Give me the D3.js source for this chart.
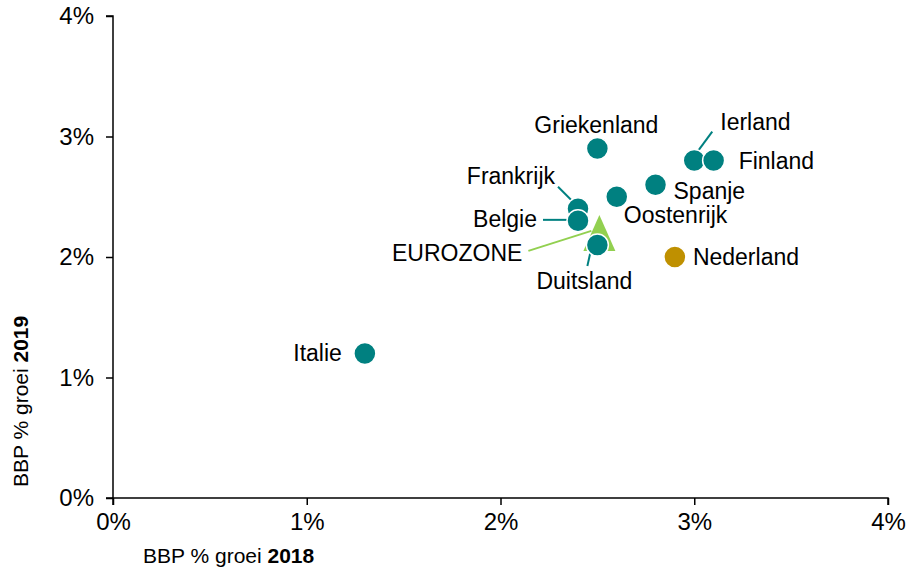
<!DOCTYPE html>
<html>
<head>
<meta charset="utf-8">
<script src="https://cdn.jsdelivr.net/npm/d3@7"></script>
<style>
  body { margin: 0; background: #fff; }
  svg { display: block; font-family: "Liberation Sans", Arial, sans-serif; }
  .axis path, .axis line { stroke: #000; stroke-width: 1.5; }
  .axis text { font-size: 24px; fill: #000; }
</style>
</head>
<body>
<svg id="chart" width="907" height="571"></svg>
<script>
// data (growth in %)
var countries = ["Frankrijk", "Belgie", "Griekenland", "Oostenrijk", "Spanje", "Ierland", "Finland", "Italie"];
var growth2018 = [2.4, 2.4, 2.5, 2.6, 2.8, 3.0, 3.1, 1.3];
var growth2019 = [2.4, 2.3, 2.9, 2.5, 2.6, 2.8, 2.8, 1.2];
var euroName = "EUROZONE", euro2018 = 2.5, euro2019 = 2.2;
var germanyName = "Duitsland", germany2018 = 2.5, germany2019 = 2.1;
var nlName = "Nederland", nl2018 = 2.9, nl2019 = 2.0;
var tickValues = [0, 1, 2, 3, 4];

// label layout: offset from the marker centre, anchor, optional leader line
var labelLayout = {
    "Griekenland": { dx: -1, dy: -24, anchor: "middle" },
    "Ierland": { dx: 26, dy: -39, anchor: "start", leader: [[18, -29], [4, -10]] },
    "Finland": { dx: 25, dy: 0, anchor: "start" },
    "Spanje": { dx: 18, dy: 6, anchor: "start" },
    "Oostenrijk": { dx: 7, dy: 18, anchor: "start" },
    "Frankrijk": { dx: -23, dy: -33, anchor: "end", leader: [[-20, -22], [-7, -9]] },
    "Belgie": { dx: -41, dy: -2, anchor: "end", leader: [[-35, -1], [-10, -1]] },
    "Italie": { dx: -23, dy: 0, anchor: "end" },
    "EUROZONE": { dx: -75, dy: 20, anchor: "end", leader: [[-69, 18], [-6, -2]] },
    "Duitsland": { dx: -13, dy: 36, anchor: "middle", leader: [[-10, 21], [-6, 3]] },
    "Nederland": { dx: 18, dy: 0, anchor: "start" }
};

var teal = "#008080", gold = "#BF9000", lime = "#92D050";

var svg = d3.select("#chart");
var x = d3.scaleLinear().domain([0, 4]).range([113, 888]);
var y = d3.scaleLinear().domain([0, 4]).range([498, 16]);

var fmt = function (d) { return d + "%"; };

svg.append("g").attr("class", "axis")
    .attr("transform", "translate(" + x(0) + ",0)")
    .call(d3.axisLeft(y).tickValues(tickValues).tickFormat(fmt).tickSize(7).tickPadding(12))
    .call(function (g) { g.select(".domain").attr("d", "M-7," + y(4) + "H0V" + y(0) + "H-7"); });

svg.append("g").attr("class", "axis")
    .attr("transform", "translate(0," + y(0) + ")")
    .call(d3.axisBottom(x).tickValues(tickValues).tickFormat(fmt).tickSize(7).tickPadding(8))
    .call(function (g) { g.select(".domain").attr("d", "M" + x(0) + ",7V0H" + x(4) + "V7"); });

// axis titles
var xt = svg.append("text").attr("x", 143).attr("y", 563).attr("font-size", 21);
xt.append("tspan").text("BBP % groei ");
xt.append("tspan").attr("font-weight", "bold").text("2018");

var yt = svg.append("text").attr("transform", "translate(28,487) rotate(-90)").attr("font-size", 21);
yt.append("tspan").text("BBP % groei ");
yt.append("tspan").attr("font-weight", "bold").text("2019");

// build point list
var points = countries.map(function (c, i) {
    return { name: c, gx: growth2018[i], gy: growth2019[i], color: teal };
});
var euro = { name: euroName, gx: euro2018, gy: euro2019, color: lime };
var germany = { name: germanyName, gx: germany2018, gy: germany2019, color: teal };
var nl = { name: nlName, gx: nl2018, gy: nl2019, color: gold };

var leaders = svg.append("g");
var marks = svg.append("g");
var labels = svg.append("g");

// euro triangle
marks.append("path")
    .attr("transform", "translate(" + (x(euro.gx) + 2) + "," + y(euro.gy) + ")")
    .attr("d", "M0,-18L16,18L-16,18Z")
    .attr("fill", lime);

marks.selectAll("circle.pt")
    .data(points.concat([germany, nl]))
    .enter().append("circle")
    .attr("class", "pt")
    .attr("cx", function (d) { return x(d.gx); })
    .attr("cy", function (d) { return y(d.gy); })
    .attr("r", 11)
    .attr("fill", function (d) { return d.color; })
    .attr("stroke", "#fff")
    .attr("stroke-width", 1.5);

var all = points.concat([euro, germany, nl]);

leaders.selectAll("line")
    .data(all.filter(function (d) { return labelLayout[d.name].leader; }))
    .enter().append("line")
    .attr("x1", function (d) { return x(d.gx) + labelLayout[d.name].leader[0][0]; })
    .attr("y1", function (d) { return y(d.gy) + labelLayout[d.name].leader[0][1]; })
    .attr("x2", function (d) { return x(d.gx) + labelLayout[d.name].leader[1][0]; })
    .attr("y2", function (d) { return y(d.gy) + labelLayout[d.name].leader[1][1]; })
    .attr("stroke", function (d) { return d.name === euroName ? lime : teal; })
    .attr("stroke-width", 2);

labels.selectAll("text")
    .data(all)
    .enter().append("text")
    .attr("x", function (d) { return x(d.gx) + labelLayout[d.name].dx; })
    .attr("y", function (d) { return y(d.gy) + labelLayout[d.name].dy; })
    .attr("dy", "0.35em")
    .attr("text-anchor", function (d) { return labelLayout[d.name].anchor; })
    .attr("font-size", 23)
    .attr("fill", "#000")
    .text(function (d) { return d.name; });
</script>
</body>
</html>
